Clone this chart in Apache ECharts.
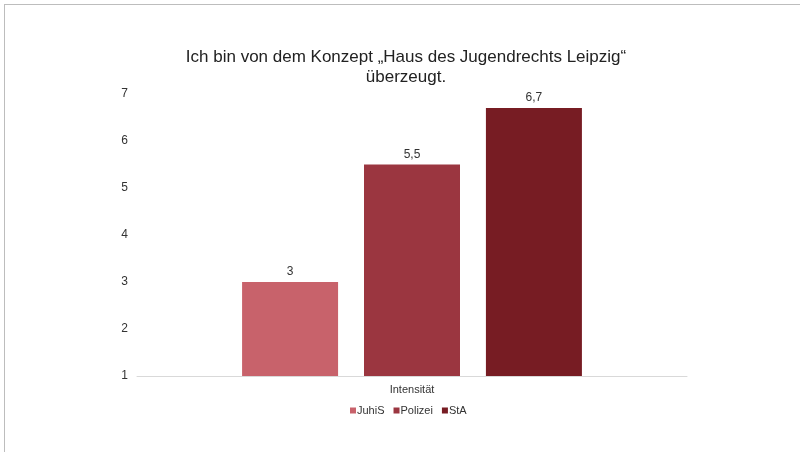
<!DOCTYPE html>
<html>
<head>
<meta charset="utf-8">
<script src="https://cdn.jsdelivr.net/npm/echarts@6/dist/echarts.min.js"></script>
<style>
  html, body { margin: 0; padding: 0; background: #fff; }
  #rahmen { position: absolute; left: 4px; top: 4px; width: 820px; height: 470px;
            border-top: 1px solid #bdbdbd; border-left: 1px solid #bdbdbd; }
  #chart { position: absolute; left: 0; top: 0; width: 800px; height: 452px; }
</style>
</head>
<body>
<div id="rahmen"></div>
<div id="chart"></div>
<script>
// Daten
var kategorien = ["Intensität"];
var gruppen = ["JuhiS", "Polizei", "StA"];
var werte = [[3], [5.5], [6.7]];
var farben = ["#C8626B", "#9B3640", "#771C23"];
var yTicks = [1, 2, 3, 4, 5, 6, 7];

var schrift = "Liberation Sans, Arial, sans-serif";

var myChart = echarts.init(document.getElementById("chart"));

// Serien aufbauen
var serien = [];
gruppen.forEach(function (name, i) {
    serien.push({
        name: name,
        type: "bar",
        data: werte[i],
        barWidth: 96,
        barGap: "27%",
        itemStyle: { color: farben[i] },
        label: {
            show: true,
            position: "top",
            distance: 4,
            color: "#333",
            fontSize: 12,
            fontFamily: schrift,
            formatter: function (p) {
                return String(p.value).replace(".", ",");
            }
        }
    });
});

myChart.setOption({
    animation: false,
    title: {
        text: "Ich bin von dem Konzept \u201EHaus des Jugendrechts Leipzig\u201C\nüberzeugt.",
        left: 401,
        textAlign: "center",
        top: 42,
        textStyle: {
            fontFamily: schrift,
            fontSize: 17,
            fontWeight: "normal",
            color: "#222",
            lineHeight: 20
        }
    },
    legend: {
        data: gruppen,
        bottom: 31,
        left: 345,
        itemWidth: 6,
        itemHeight: 6,
        itemGap: 9,
        icon: "rect",
        textStyle: { fontFamily: schrift, fontSize: 11, color: "#333", padding: [0, 0, 0, -4] }
    },
    grid: { left: 137, right: 113, top: 94, bottom: 76 },
    xAxis: {
        type: "category",
        data: kategorien,
        axisLine: { lineStyle: { color: "#d9d9d9" } },
        axisTick: { show: false },
        axisLabel: { fontFamily: schrift, fontSize: 11, color: "#333", margin: 8 }
    },
    yAxis: {
        type: "value",
        min: yTicks[0],
        max: yTicks[yTicks.length - 1],
        interval: 1,
        splitLine: { show: false },
        axisLine: { show: false },
        axisTick: { show: false },
        axisLabel: { fontFamily: schrift, fontSize: 12, color: "#333", margin: 9 }
    },
    series: serien
});
</script>
</body>
</html>
